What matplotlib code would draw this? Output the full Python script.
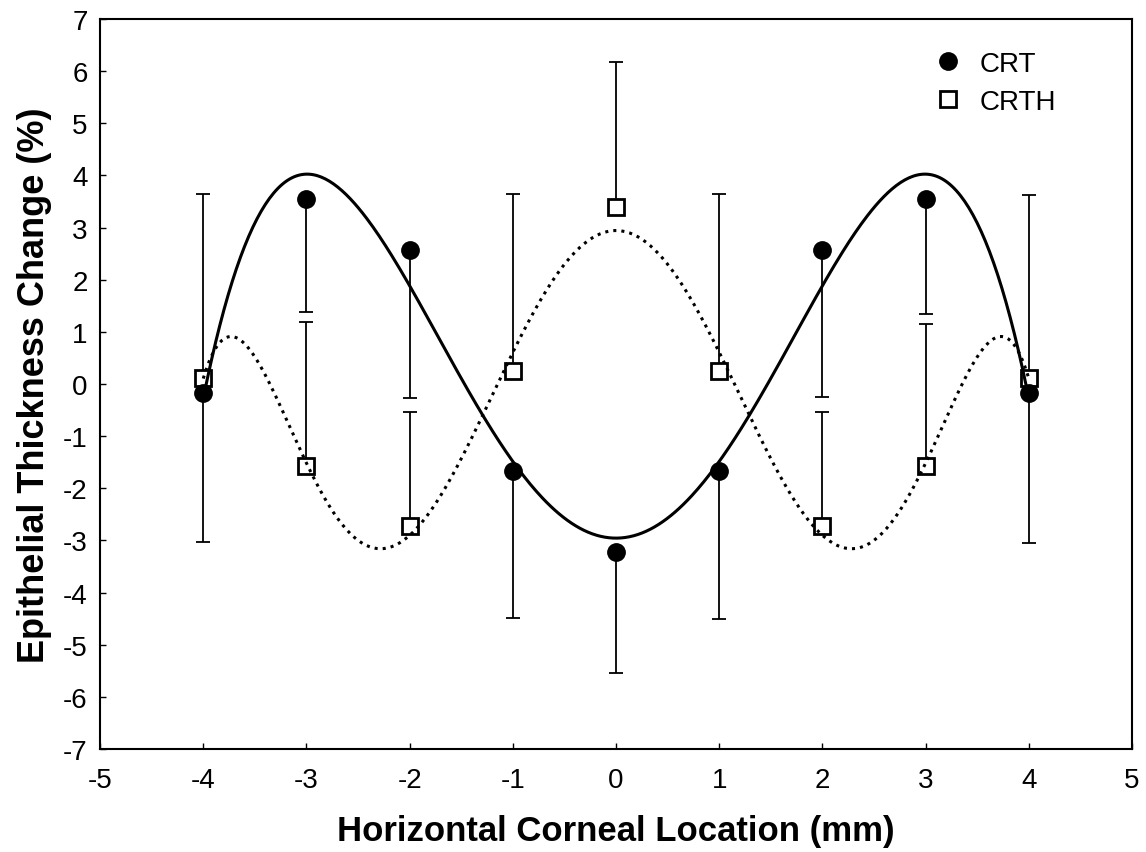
import numpy as np
import matplotlib
matplotlib.use('Agg')
import matplotlib.pyplot as plt

plt.rcParams['font.family'] = ['Liberation Sans', 'DejaVu Sans']
plt.rcParams['axes.unicode_minus'] = False

# data
location = np.array([-4, -3, -2, -1, 0, 1, 2, 3, 4])
crt = np.array([-0.17, 3.55, 2.56, -1.66, -3.23, -1.66, 2.56, 3.55, -0.17])
crt_err = np.array([2.86, 2.17, 2.83, 2.82, 2.32, 2.84, 2.81, 2.2, 2.88])
crth = np.array([0.11, -1.57, -2.72, 0.24, 3.40, 0.24, -2.72, -1.57, 0.11])
crth_err = np.array([3.54, 2.76, 2.19, 3.41, 2.78, 3.41, 2.19, 2.72, 3.51])

fig = plt.figure(figsize=(11.46, 8.53), dpi=100)
ax = fig.add_axes([0.0873, 0.1208, 0.9005, 0.8558])

# fitted curves (polynomial regression on the means)
xs = np.linspace(-4, 4, 400)
fit_crt = np.polyval(np.polyfit(location, crt, 4), xs)
fit_crth = np.polyval(np.polyfit(location, crth, 6), xs)

# one-sided error bars: CRT down, CRTH up
ax.errorbar(location, crt, yerr=[crt_err, np.zeros_like(crt_err)], fmt='none',
            ecolor='black', elinewidth=1.3, capsize=4.8, capthick=1.3, zorder=2)
ax.errorbar(location, crth, yerr=[np.zeros_like(crth_err), crth_err], fmt='none',
            ecolor='black', elinewidth=1.3, capsize=4.8, capthick=1.3, zorder=2)

ax.plot(location, crth, 's', ms=11, mfc='white', mec='black', mew=2, zorder=3, label='CRTH')
ax.plot(location, crt, 'o', ms=12.5, color='black', zorder=3, label='CRT')

ax.plot(xs, fit_crt, '-', color='black', lw=2.2, zorder=4)
ax.plot(xs, fit_crth, ':', color='black', lw=2.2, zorder=4)

ax.set_xlim(-5, 5)
ax.set_ylim(-7, 7)
ax.set_xticks(np.arange(-5, 6, 1))
ax.set_yticks(np.arange(-7, 8, 1))
ax.tick_params(direction='in', length=4, width=1, labelsize=20)
ax.tick_params(axis='x', pad=13)
ax.tick_params(axis='y', pad=9)
for s in ax.spines.values():
    s.set_linewidth(1.5)

ax.set_xlabel('Horizontal Corneal Location (mm)', fontsize=25, fontweight='bold', labelpad=15)
ax.set_ylabel('Epithelial Thickness Change (%)', fontsize=26, fontweight='bold', labelpad=8)

h, l = ax.get_legend_handles_labels()
ax.legend(h[::-1], l[::-1], loc='upper left', bbox_to_anchor=(0.787, 0.991), frameon=False,
          fontsize=20, handlelength=0.8, handletextpad=0.72, labelspacing=0.45)

fig.savefig('out.png', dpi=100)
